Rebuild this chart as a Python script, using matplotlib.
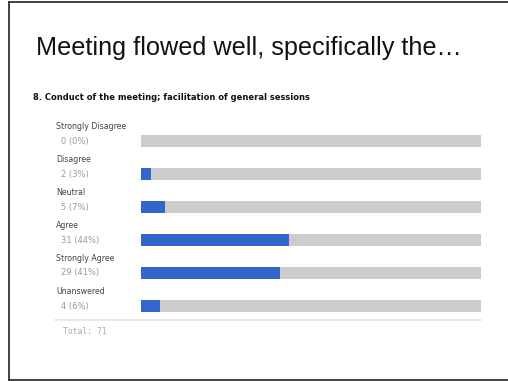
import matplotlib.pyplot as plt
import matplotlib.transforms as mtransforms
from matplotlib.lines import Line2D

# Survey responses for question 8
categories = ["Strongly Disagree", "Disagree", "Neutral", "Agree",
              "Strongly Agree", "Unanswered"]
counts = [0, 2, 5, 31, 29, 4]
percents = [0, 3, 7, 44, 41, 6]
total = 71

title = "Meeting flowed well, specifically the\u2026"
question = "8. Conduct of the meeting; facilitation of general sessions"

W, H = 508, 381
fig = plt.figure(figsize=(W / 100, H / 100), dpi=100)
fig.patch.set_facecolor("white")

# slide border (left, top, bottom)
frame = dict(color="#333333", lw=1.3, transform=fig.transFigure)
fig.add_artist(Line2D([8.5 / W, 8.5 / W], [1 - 2 / H, 1 - 380 / H], **frame))
fig.add_artist(Line2D([8.5 / W, 1], [1 - 2 / H, 1 - 2 / H], **frame))
fig.add_artist(Line2D([8.5 / W, 1], [1 - 380 / H, 1 - 380 / H], **frame))

fig.text(36 / W, 1 - 48 / H, title, fontsize=18.2, family="Liberation Sans",
         color="#111111", va="center", ha="left")
fig.text(33 / W, 1 - 97 / H, question, fontsize=6.0, family="DejaVu Sans",
         weight="bold", color="#111111", va="center", ha="left")

# bar area: rows are 33 px apart, first centred at y=141
ax = fig.add_axes([141 / W, 1 - 322.5 / H, 340 / W, 198 / H])
ypos = list(range(len(categories)))
ax.barh(ypos, [total] * len(categories), height=0.34, color="#cccccc")
ax.barh(ypos, counts, height=0.34, color="#3366cc")
ax.set_xlim(0, total)
ax.set_ylim(len(categories) - 0.5, -0.5)
ax.axis("off")

trans = mtransforms.blended_transform_factory(fig.transFigure, ax.transData)
for y, cat, c, p in zip(ypos, categories, counts, percents):
    ax.text(56 / W, y - 0.43, cat, transform=trans, fontsize=5.7,
            family="DejaVu Sans", color="#444444", va="center", ha="left")
    ax.text(61 / W, y, f"{c} ({p}%)", transform=trans, fontsize=6.0,
            family="DejaVu Sans", color="#999999", va="center", ha="left")

fig.add_artist(Line2D([55 / W, 481 / W], [1 - 320 / H, 1 - 320 / H],
                      color="#e6e6e6", lw=1.2, transform=fig.transFigure))
fig.text(63 / W, 1 - 331 / H, f"Total: {total}", fontsize=5.8,
         family="DejaVu Sans Mono", color="#aaaaaa", va="center", ha="left")

fig.savefig("out.png", dpi=100)
